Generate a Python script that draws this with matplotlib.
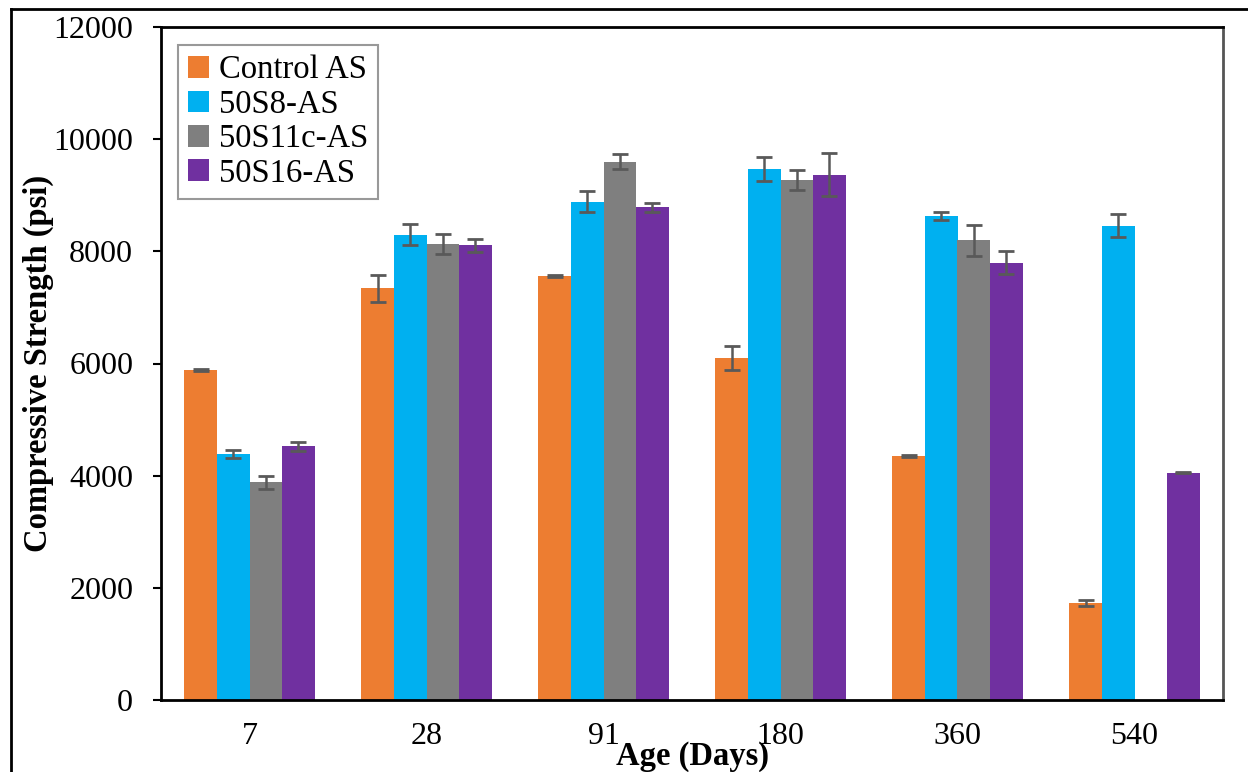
import numpy as np
import matplotlib
matplotlib.use("Agg")
import matplotlib.pyplot as plt
from matplotlib.lines import Line2D

plt.rcParams['font.family'] = ['Liberation Serif', 'DejaVu Serif']

# data
ages = ['7', '28', '91', '180', '360', '540']
series = ['Control AS', '50S8-AS', '50S11c-AS', '50S16-AS']
colors = ['#ED7D31', '#00B0F0', '#7F7F7F', '#7030A0']

control = [5880, 7340, 7555, 6095, 4345, 1730]
s8 = [4385, 8300, 8885, 9465, 8630, 8455]
s11c = [3880, 8125, 9600, 9270, 8195, np.nan]
s16 = [4525, 8105, 8785, 9365, 7800, 4055]

control_err = [20, 240, 20, 215, 15, 60]
s8_err = [70, 190, 190, 210, 75, 205]
s11c_err = [110, 180, 130, 175, 275, np.nan]
s16_err = [80, 120, 80, 380, 200, 15]

values = [control, s8, s11c, s16]
errors = [control_err, s8_err, s11c_err, s16_err]

fig = plt.figure(figsize=(12.48, 7.72), dpi=100)
ax = fig.add_axes([161 / 1248, 1 - 700 / 772, 1062 / 1248, 673 / 772])

x = np.arange(len(ages))
width = 0.184
offsets = (np.arange(len(series)) - 1.5) * width

for vals, errs, col, name, off in zip(values, errors, colors, series, offsets):
    vals = np.array(vals, dtype=float)
    errs = np.array(errs, dtype=float)
    ok = ~np.isnan(vals)
    ax.bar(x[ok] + off, vals[ok], width, color=col, label=name, zorder=2)
    ax.errorbar(x[ok] + off, vals[ok], yerr=errs[ok], fmt='none', ecolor='#595959',
                elinewidth=1.8, capsize=6, capthick=2, zorder=3)

ax.set_xlim(-0.5, len(ages) - 0.5)
ax.set_ylim(0, 12000)
ax.set_yticks(np.arange(0, 12001, 2000))
ax.set_xticks(x)
ax.set_xticklabels(ages)
ax.tick_params(axis='y', direction='out', length=6, width=1.5, labelsize=23, pad=14)
ax.tick_params(axis='x', length=0, labelsize=23, pad=16)

for s in ['left', 'bottom', 'top']:
    ax.spines[s].set_linewidth(2)
    ax.spines[s].set_color('black')
ax.spines['right'].set_linewidth(2)
ax.spines['right'].set_color('#555555')

ax.set_xlabel('Age (Days)', fontsize=23.5, fontweight='bold', va='baseline')
ax.xaxis.set_label_coords((692 - 161) / 1062, (700 - 765) / 673)
ax.set_ylabel('Compressive Strength (psi)', fontsize=23.5, fontweight='bold', va='center')
ax.yaxis.set_label_coords((38 - 161) / 1062, (700 - 363) / 673)

leg = ax.legend(loc='upper left', bbox_to_anchor=(0.016, 0.973), borderaxespad=0,
                fontsize=23.5, frameon=True, fancybox=False, edgecolor='#808080',
                handlelength=0.65, handleheight=0.65, handletextpad=0.3,
                labelspacing=0.12, borderpad=0.3)
leg.get_frame().set_linewidth(1.5)

# outer frame (left and top edges only)
fig.add_artist(Line2D([11 / 1248, 11 / 1248], [0, 1 - 9 / 772], color='black', lw=2))
fig.add_artist(Line2D([11 / 1248, 1], [1 - 9 / 772, 1 - 9 / 772], color='black', lw=2))

fig.savefig('out.png', dpi=100)
